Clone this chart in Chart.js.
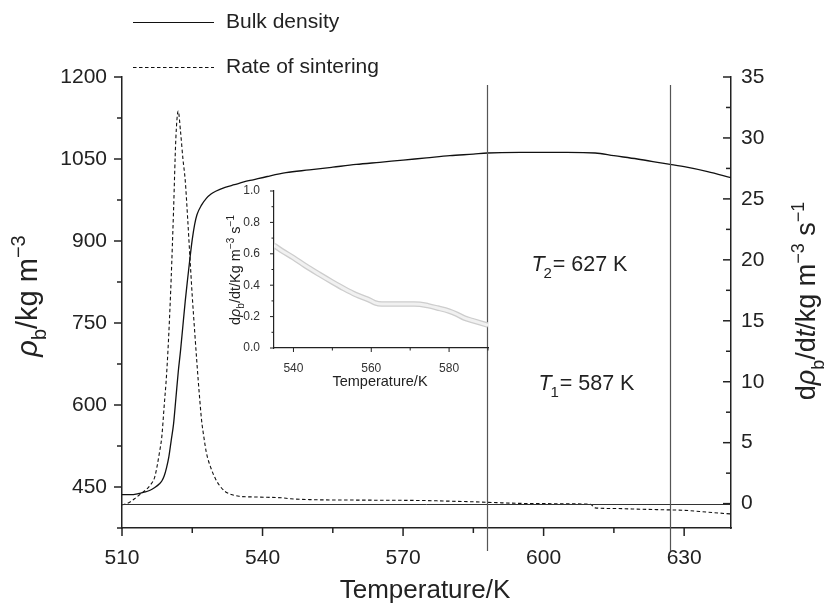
<!DOCTYPE html>
<html lang="en">
<head>
  <meta charset="UTF-8" />
  <title>Bulk density and rate of sintering</title>
  <script src="https://cdn.jsdelivr.net/npm/chart.js"></script>
  <style>
    body { margin: 0; background: #ffffff; }
    .wrap { position: relative; width: 825px; height: 604px; }
    #mainChart { position: absolute; left: 0; top: 0; }
    #insetChart { position: absolute; left: 220px; top: 175px; }
  </style>
</head>
<body>
  <div class="wrap">
    <canvas id="mainChart" width="825" height="604"></canvas>
    <canvas id="insetChart" width="275" height="220"></canvas>
  </div>

  <script>
    // bulk density (left axis, kg m^-3)
    const densityT = [510, 512, 513, 514, 515, 516, 517, 518, 518.5, 519, 519.5, 520, 520.5, 521, 521.5, 522, 522.5, 523, 523.5, 524, 524.5, 525, 525.5, 526, 527, 528, 529, 530, 532, 534, 536, 538, 541, 545, 550, 555, 560, 565, 570, 575, 580, 585, 588, 595, 605, 611, 615, 620, 625, 630, 635, 640];
    const densityVal = [436, 436, 437, 439, 441, 444, 449, 456, 461, 470, 485, 505, 535, 565, 612, 660, 700, 745, 790, 830, 868, 903, 930, 948, 966, 978, 986, 991, 998, 1003, 1008, 1012, 1018, 1025, 1030, 1035, 1040, 1044, 1048, 1052, 1056, 1059, 1061, 1062, 1062, 1061, 1056, 1050, 1043, 1036, 1027, 1016];

    // rate of sintering (right axis, kg m^-3 s^-1)
    const rateT = [510, 511, 512, 513, 514, 515, 516, 517, 518, 518.5, 519, 519.5, 520, 520.5, 521, 521.5, 522, 522.5, 523, 523.5, 524, 524.5, 525, 525.5, 526, 526.5, 527, 527.5, 528, 529, 530, 531, 532, 533, 535, 538, 541, 544, 546, 550, 555, 560, 565, 570, 575, 580, 585, 590, 595, 600, 605, 610, 611, 615, 620, 625, 630, 635, 640];
    const rateVal = [-0.1, 0, 0.2, 0.5, 0.8, 1.1, 1.5, 2.2, 4.2, 5.5, 8, 10.5, 14, 18.5, 24, 30, 32.2, 30.5, 28.3, 26.5, 23.5, 20.2, 17, 14.2, 11.5, 9, 6.8, 5.4, 4.2, 2.9, 2.0, 1.4, 1.0, 0.8, 0.6, 0.55, 0.52, 0.48, 0.4, 0.33, 0.3, 0.29, 0.28, 0.27, 0.25, 0.2, 0.15, 0.08, 0.02, 0, -0.02, -0.05, -0.35, -0.4, -0.45, -0.5, -0.55, -0.7, -0.85];

    // inset: rate of sintering, zoomed
    const insetT = [535, 537, 540, 543, 546.6, 550, 553, 556, 560, 561, 562.7, 565, 568, 571, 572.5, 574.5, 577, 580, 582, 584, 586, 588, 590];
    const insetVal = [0.654, 0.62, 0.575, 0.525, 0.47, 0.42, 0.378, 0.34, 0.30, 0.287, 0.28, 0.28, 0.281, 0.281, 0.279, 0.27, 0.255, 0.235, 0.215, 0.19, 0.175, 0.16, 0.145];

    const markerT = [588, 627];
    const legendLabels = ['Bulk density', 'Rate of sintering'];

    const FONT = "'Liberation Sans', Arial, Helvetica, sans-serif";
    const INK = '#222';

    function pts(xs, ys) {
      return xs.map((x, i) => ({ x: x, y: ys[i] }));
    }

    // text with italic / sub / superscript pieces, centred on (x, y)
    function drawRich(ctx, parts, x, y, size, angle, align) {
      ctx.save();
      ctx.translate(x, y);
      ctx.rotate(angle || 0);
      ctx.textBaseline = 'alphabetic';
      ctx.textAlign = 'left';
      ctx.fillStyle = INK;
      const fontFor = p => (p.i ? 'italic ' : '') + (p.s ? Math.round(size * 0.68) : size) + 'px ' + FONT;
      let w = 0;
      parts.forEach(p => { ctx.font = fontFor(p); w += ctx.measureText(p.t).width + (p.k || 0) * size; });
      let cx = align === 'left' ? 0 : -w / 2;
      parts.forEach(p => {
        ctx.font = fontFor(p);
        const dy = p.s === 'sub' ? size * 0.3 : p.s === 'sup' ? -size * 0.42 : 0;
        cx += (p.k || 0) * size;
        ctx.fillText(p.t, cx, size * 0.35 + dy);
        cx += ctx.measureText(p.t).width;
      });
      ctx.restore();
    }

    // tick marks: major / minor, outward or inward
    function tickPlugin(spec) {
      return {
        id: 'tickMarks',
        afterDraw(chart) {
          const ctx = chart.ctx;
          const a = chart.chartArea;
          ctx.save();
          ctx.strokeStyle = INK;
          Object.keys(spec).forEach(id => {
            const s = chart.scales[id];
            const o = spec[id];
            ctx.lineWidth = o.width;
            s.ticks.forEach(t => {
              const q = t.value / o.major;
              const major = Math.abs(q - Math.round(q)) < 1e-6;
              const len = major ? o.long : o.short;
              const p = s.getPixelForValue(t.value);
              ctx.beginPath();
              if (s.isHorizontal()) {
                ctx.moveTo(p, a.bottom);
                ctx.lineTo(p, a.bottom + len * o.dir);
              } else {
                const x0 = s.position === 'left' ? a.left : a.right;
                ctx.moveTo(x0, p);
                ctx.lineTo(x0 + len * o.dir, p);
              }
              ctx.stroke();
            });
          });
          ctx.restore();
        }
      };
    }

    const mainDecor = {
      id: 'mainDecor',
      afterDatasetsDraw(chart) {
        const ctx = chart.ctx;
        const a = chart.chartArea;
        const xs = chart.scales.x;
        const ys = chart.scales.y;
        const y2 = chart.scales.y2;
        ctx.save();
        // zero line of the rate axis
        ctx.strokeStyle = '#333';
        ctx.lineWidth = 1;
        const z = Math.round(y2.getPixelForValue(0)) + 0.5;
        ctx.beginPath();
        ctx.moveTo(a.left, z);
        ctx.lineTo(a.right, z);
        ctx.stroke();
        // T1 / T2 markers
        ctx.strokeStyle = '#555';
        ctx.lineWidth = 1.2;
        markerT.forEach(t => {
          const px = Math.round(xs.getPixelForValue(t)) + 0.5;
          ctx.beginPath();
          ctx.moveTo(px, a.top + 8);
          ctx.lineTo(px, a.bottom + 23);
          ctx.stroke();
        });
        ctx.restore();

        // annotations
        drawRich(ctx, [{ t: 'T', i: true }, { t: '2', s: 'sub', k: -0.05 }, { t: '= 627 K', k: 0.04 }],
          xs.getPixelForValue(597.4), ys.getPixelForValue(858), 21.5, 0, 'left');
        drawRich(ctx, [{ t: 'T', i: true }, { t: '1', s: 'sub', k: -0.05 }, { t: '= 587 K', k: 0.04 }],
          xs.getPixelForValue(598.9), ys.getPixelForValue(641), 21.5, 0, 'left');

        // axis titles
        drawRich(ctx, [{ t: 'Temperature/K' }], 425, 589, 26, 0);
        drawRich(ctx, [{ t: 'ρ', i: true }, { t: 'b', s: 'sub' }, { t: '/kg m' }, { t: '−3', s: 'sup' }],
          27, 296, 29, -Math.PI / 2);
        drawRich(ctx, [{ t: 'd' }, { t: 'ρ', i: true }, { t: 'b', s: 'sub' }, { t: '/d' }, { t: 't', i: true },
          { t: '/kg m' }, { t: '−3', s: 'sup' }, { t: ' s' }, { t: '−1', s: 'sup' }],
          806, 301, 27, -Math.PI / 2);

        // legend
        ctx.save();
        ctx.strokeStyle = '#111';
        ctx.lineWidth = 1.2;
        chart.data.datasets.forEach((d, i) => {
          const ly = i === 0 ? 22.5 : 67.5;
          ctx.setLineDash(d.borderDash || []);
          ctx.beginPath();
          ctx.moveTo(133, ly);
          ctx.lineTo(214, ly);
          ctx.stroke();
          ctx.setLineDash([]);
          ctx.fillStyle = INK;
          ctx.font = '21px ' + FONT;
          ctx.textBaseline = 'middle';
          ctx.textAlign = 'left';
          ctx.fillText(legendLabels[i], 226, ly);
        });
        ctx.restore();
      }
    };

    const tickFont = { family: FONT, size: 21 };

    new Chart(document.getElementById('mainChart'), {
      type: 'line',
      data: {
        datasets: [
          {
            label: legendLabels[0],
            data: pts(densityT, densityVal),
            yAxisID: 'y',
            borderColor: '#111',
            borderWidth: 1.3,
            pointRadius: 0,
            cubicInterpolationMode: 'monotone'
          },
          {
            label: legendLabels[1],
            data: pts(rateT, rateVal),
            yAxisID: 'y2',
            borderColor: '#111',
            borderWidth: 1.1,
            borderDash: [3.5, 2.5],
            pointRadius: 0,
            cubicInterpolationMode: 'monotone'
          }
        ]
      },
      options: {
        responsive: false,
        animation: false,
        layout: { padding: { top: 77, left: 0, right: 0, bottom: 0 } },
        plugins: { legend: { display: false }, tooltip: { enabled: false } },
        scales: {
          x: {
            type: 'linear',
            min: 510,
            max: 640,
            grid: { display: false },
            border: { display: true, color: INK, width: 1.5 },
            ticks: {
              stepSize: 15,
              includeBounds: false,
              autoSkip: false,
              maxRotation: 0,
              padding: 10,
              color: INK,
              font: tickFont,
              callback: v => (v % 30 === 0 ? v : '')
            },
            afterFit: s => { s.height = 76; }
          },
          y: {
            position: 'left',
            min: 375,
            max: 1200,
            grid: { display: false },
            border: { display: true, color: INK, width: 1.5 },
            ticks: {
              stepSize: 75,
              autoSkip: false,
              padding: 7,
              color: INK,
              font: tickFont,
              callback: v => (v % 150 === 0 ? v : '')
            },
            afterFit: s => { s.width = 122; }
          },
          y2: {
            position: 'right',
            min: -2,
            max: 35,
            grid: { display: false },
            border: { display: true, color: INK, width: 1.5 },
            ticks: {
              stepSize: 2.5,
              includeBounds: false,
              autoSkip: false,
              padding: 2,
              color: INK,
              font: tickFont,
              callback: v => (v % 5 === 0 ? v : '')
            },
            afterFit: s => { s.width = 94; }
          }
        }
      },
      plugins: [
        tickPlugin({
          x: { major: 30, long: 8, short: 5, dir: 1, width: 1.5 },
          y: { major: 150, long: 8, short: 5, dir: -1, width: 1.5 },
          y2: { major: 5, long: 8, short: 5, dir: -1, width: 1.5 }
        }),
        mainDecor
      ]
    });

    const insetDecor = {
      id: 'insetDecor',
      afterDraw(chart) {
        const ctx = chart.ctx;
        drawRich(ctx, [{ t: 'Temperature/K' }], 160, 206, 14.5, 0);
        drawRich(ctx, [{ t: 'd' }, { t: 'ρ', i: true }, { t: 'b', s: 'sub' }, { t: '/dt/Kg m' }, { t: '−3', s: 'sup' },
          { t: ' s' }, { t: '−1', s: 'sup' }], 15, 95, 14.5, -Math.PI / 2);
      }
    };

    const insetFont = { family: FONT, size: 12 };

    new Chart(document.getElementById('insetChart'), {
      type: 'line',
      data: {
        datasets: [
          {
            // inner light core, drawn on top (lower index draws last)
            data: pts(insetT, insetVal),
            borderColor: '#f1f1f1',
            borderWidth: 3,
            pointRadius: 0,
            cubicInterpolationMode: 'monotone'
          },
          {
            data: pts(insetT, insetVal),
            borderColor: '#cdcdcd',
            borderWidth: 5.5,
            pointRadius: 0,
            cubicInterpolationMode: 'monotone'
          }
        ]
      },
      options: {
        responsive: false,
        animation: false,
        layout: { padding: { top: 16, right: 7, left: 0, bottom: 0 } },
        plugins: { legend: { display: false }, tooltip: { enabled: false } },
        scales: {
          x: {
            type: 'linear',
            min: 535,
            max: 590,
            grid: { display: false },
            border: { display: true, color: INK, width: 1.2 },
            ticks: {
              stepSize: 10,
              includeBounds: false,
              autoSkip: false,
              maxRotation: 0,
              padding: 5,
              color: '#333',
              font: insetFont,
              callback: v => (v % 20 === 0 ? v : '')
            },
            afterFit: s => { s.height = 47; }
          },
          y: {
            min: 0,
            max: 1,
            grid: { display: false },
            border: { display: true, color: INK, width: 1.2 },
            ticks: {
              stepSize: 0.1,
              autoSkip: false,
              padding: 6,
              color: '#333',
              font: insetFont,
              callback: v => (Math.round(v * 10) % 2 === 0 ? v.toFixed(1) : '')
            },
            afterFit: s => { s.width = 54; }
          }
        }
      },
      plugins: [
        tickPlugin({
          x: { major: 20, long: 4, short: 2.5, dir: 1, width: 1 },
          y: { major: 0.2, long: 4, short: 2.5, dir: -1, width: 1 }
        }),
        insetDecor
      ]
    });
  </script>
</body>
</html>
